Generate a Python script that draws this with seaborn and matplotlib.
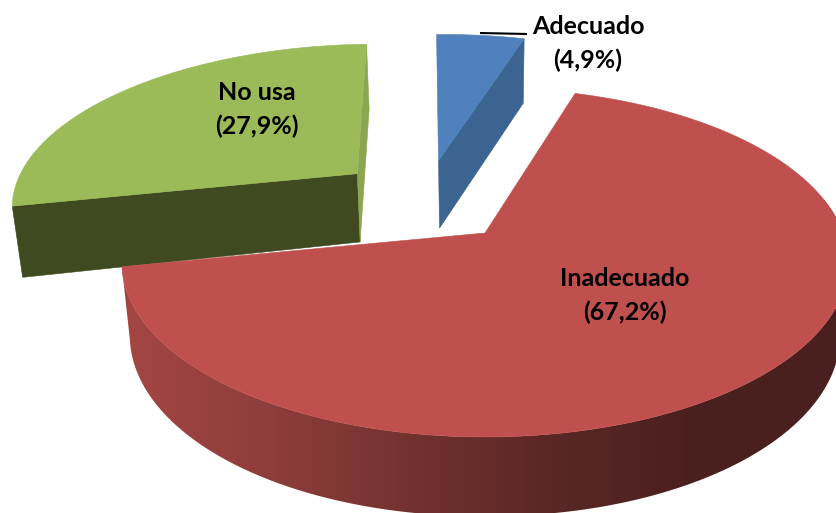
import numpy as np
import matplotlib
matplotlib.use("Agg")
import matplotlib.pyplot as plt
from matplotlib.patches import Polygon
from matplotlib.colors import LinearSegmentedColormap
import seaborn as sns

categories = ["Adecuado", "Inadecuado", "No usa"]
values = [4.9, 67.2, 27.9]
value_labels = ["(4,9%)", "(67,2%)", "(27,9%)"]

top_colors = ["#4f81bd", "#c0504d", "#9bbb59"]
front_colors = ["#3c6491", None, "#3f4a21"]
inner_colors = ["#3c6491", None, "#8aa64e"]

sns.set_theme(style="white")
plt.rcParams["font.family"] = ["Lato", "DejaVu Sans"]

W, H = 837, 513
fig = plt.figure(figsize=(W / 100, H / 100), dpi=100)
ax = fig.add_axes([0, 0, 1, 1])

# perspective of the disc (layout, in picture units)
CX, CY, A, B, K = 485, 233, 358, 169.5, 0.169
SCALE_Z = 0.978


def project(X, Y, low=False):
    X, Y = np.asarray(X, float), np.asarray(Y, float)
    d = 1 - K * Y
    u = CX + A * X / d
    v = CY + B * Y / d
    if low:
        spread = 0.006 * np.abs(u - CX)
        u = CX + (u - CX) * SCALE_Z
        v = v + 69 + spread + np.where(v > CY, 0.05, 0.025) * (v - CY)
    return u, v


def poly(us, vs, color, z):
    p = Polygon(np.column_stack([us, vs]), closed=True, facecolor=color,
                edgecolor=color, lw=0.4, zorder=z)
    ax.add_patch(p)
    return p


# angle spans come from the values, clockwise from the top of the disc
START = 17.0
order = [1, 2, 0]  # clockwise: Inadecuado, No usa, Adecuado
turn = {1: 0.0, 2: -1.0, 0: -1.0}
spans = {}
a0 = START
for i in order:
    a1 = a0 + values[i] * 3.6
    spans[i] = (a0 + turn[i], a1 + turn[i])
    a0 = a1

offset = {1: (0.0, 0.0), 2: (-0.379, -0.372), 0: (-0.14, -0.46)}


def arc(i, n=400):
    t = np.radians(np.linspace(spans[i][0], spans[i][1], n))
    ox, oy = offset[i]
    return np.sin(t) + ox, -np.cos(t) + oy


red_ramp = sns.blend_palette(["#a34643", "#8f3e3b", "#733230", "#5a2725", "#4a201f", "#4a201f"], 60)
red_cmap = LinearSegmentedColormap.from_list("rim", red_ramp)

for i in [2, 0, 1]:
    ox, oy = offset[i]
    X, Y = arc(i)
    ut, vt = project(X, Y)
    ub, vb = project(X, Y, low=True)
    au, av = project(ox, oy)
    aub, avb = project(ox, oy, low=True)
    z = {2: 2, 0: 2, 1: 4}[i]
    if i == 1:
        # curved rim with a left-to-right shading, clipped to the rim's outline
        rim = Polygon(np.column_stack([np.r_[ut, ub[::-1]], np.r_[vt, vb[::-1]]]), closed=True,
                      facecolor="none", edgecolor="none", transform=ax.transData)
        ax.add_patch(rim)
        im = ax.imshow(np.linspace(0, 1, 256)[None, :], cmap=red_cmap, extent=(122, W, H + 20, 200),
                       aspect="auto", zorder=z, interpolation="bilinear")
        im.set_clip_path(rim)
    else:
        # the flat cut walls
        if i == 2:
            poly([ut[0], au, aub, ub[0]], [vt[0], av, avb, vb[0]], front_colors[i], z)
            poly([ut[-1], au, aub, ub[-1]], [vt[-1], av, avb, vb[-1]], inner_colors[i], z)
        else:
            poly([ut[-1], au, aub, ub[-1]], [vt[-1], av, avb, vb[-1]], front_colors[i], z)
    poly(np.r_[au, ut], np.r_[av, vt], top_colors[i], z + 0.5)

# leader line of the small slice
ax.plot([480, 527], [33, 34], color="black", lw=1.5, zorder=6, solid_capstyle="butt")

label_pos = {0: (588, 27, 60), 1: (625, 279, 312), 2: (257, 93, 126)}
for i, name in enumerate(categories):
    x, y1, y2 = label_pos[i]
    kw = dict(ha="center", va="center", fontsize=18, fontweight="bold", color="black", zorder=7)
    ax.text(x, y1, name, **kw)
    ax.text(x, y2, value_labels[i], **kw)

ax.set_xlim(0, W)
ax.set_ylim(H, 0)
ax.axis("off")

fig.savefig("out.png", dpi=100, facecolor="white")
